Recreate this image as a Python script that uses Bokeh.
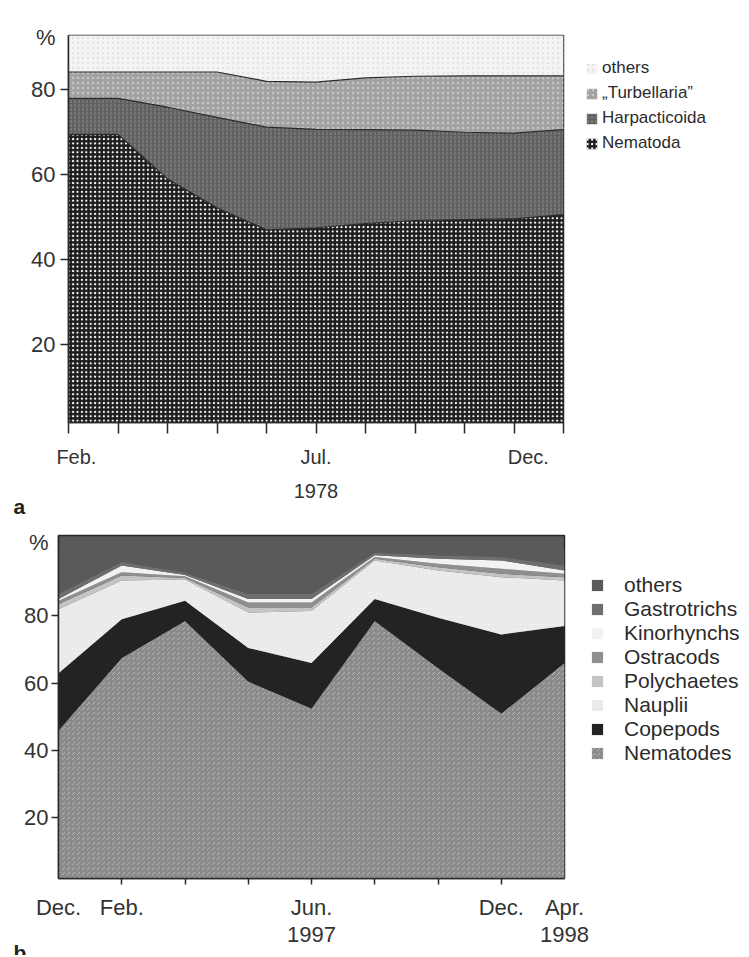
from bokeh.plotting import figure
from bokeh.models import Range1d, FixedTicker, Legend, LegendItem, ColumnDataSource, Title
from bokeh.layouts import column, row
from bokeh.embed import file_html
from bokeh.resources import INLINE

FONT = "Liberation Sans"
INK = "#2a2a2a"

# ---------------- Panel a : 1978, monthly samples Feb..Dec ----------------
a_samples = list(range(11))            # Feb .. Dec
a_month_labels = {0.16: "Feb.", 5: "Jul.\n1978", 9.29: "Dec."}
a_nematoda      = [69.5, 69.5, 59.0, 52.2, 47.0, 47.5, 48.5, 49.2, 49.4, 49.6, 50.6]
a_harpacticoida = [8.5, 8.5, 16.9, 21.3, 24.2, 23.2, 22.1, 21.3, 20.6, 20.2, 20.0]
a_turbellaria   = [6.2, 6.2, 8.3, 10.7, 10.8, 11.1, 12.2, 12.7, 13.3, 13.5, 12.7]
a_others        = [15.8, 15.8, 15.8, 15.8, 18.0, 18.2, 17.2, 16.8, 16.7, 16.7, 16.7]
a_series_names  = ["Nematoda", "Harpacticoida", "\u201eTurbellaria\u201d", "others"]
a_yticks = [20, 40, 60, 80]
a_ylabels = {20: "20", 40: "40", 60: "60", 80: "80", 92.3: "%"}
a_panel_letter = "a"

# ---------------- Panel b : Dec 1996 .. Apr 1998 sampling dates ----------------
b_samples = list(range(9))
b_tick_labels = {0: "Dec.", 1: "Feb.", 4: "Jun.\n1997", 7: "Dec.", 8: "Apr.\n1998"}
b_nematodes    = [46.0, 67.5, 78.5, 60.5, 52.5, 78.5, 64.5, 51.0, 66.0]
b_copepods     = [17.0, 11.5, 6.0, 10.0, 13.5, 6.5, 15.0, 23.5, 11.0]
b_nauplii      = [19.0, 11.5, 6.3, 10.5, 15.5, 11.5, 14.0, 17.0, 13.5]
b_polychaetes  = [1.5, 1.5, 0.5, 1.5, 1.0, 0.5, 1.0, 1.0, 1.0]
b_ostracods    = [1.0, 1.0, 0.5, 1.5, 1.5, 0.5, 1.0, 1.5, 1.0]
b_kinorhynchs  = [0.5, 2.0, 0.4, 1.0, 1.0, 0.5, 1.5, 2.5, 1.0]
b_gastrotrichs = [1.5, 1.0, 0.6, 1.5, 1.5, 0.8, 1.0, 1.0, 1.5]
b_others       = [13.5, 4.0, 7.2, 13.5, 13.5, 1.2, 2.0, 2.5, 5.0]
b_series_names = ["Nematodes", "Copepods", "Nauplii", "Polychaetes",
                  "Ostracods", "Kinorhynchs", "Gastrotrichs", "others"]
b_yticks = [20, 40, 60, 80]
b_ylabels = {20: "20", 40: "40", 60: "60", 80: "80", 101.8: "%"}
b_panel_letter = "b"


def stack_bounds(layers):
    bottoms, tops = [], []
    base = [0.0] * len(layers[0])
    for lay in layers:
        top = [b + v for b, v in zip(base, lay)]
        bottoms.append(base)
        tops.append(top)
        base = top
    return bottoms, tops


def style_axes(p, tick_size):
    p.outline_line_color = INK
    p.outline_line_width = 1.5
    p.xgrid.visible = False
    p.ygrid.visible = False
    for ax in (p.xaxis[0], p.yaxis[0]):
        ax.axis_line_color = INK
        ax.axis_line_width = 1.5
        ax.major_tick_line_color = None
        ax.minor_tick_line_color = INK
        ax.minor_tick_line_width = 1.5
        ax.minor_tick_in = 0
        ax.major_tick_in = 0
        ax.major_label_text_font = FONT
        ax.major_label_text_font_size = tick_size
        ax.major_label_text_color = "#333333"


def panel_letter(p, letter, offset):
    p.add_layout(Title(text=letter, align="left", offset=offset, standoff=-26,
                       vertical_align="bottom", text_font=FONT, text_font_size="21px",
                       text_font_style="bold", text_color="#222222"), "below")


# ======================= Panel a =======================
pa = figure(frame_width=495, frame_height=387, output_backend="svg",
            toolbar_location=None, x_range=Range1d(0, 10), y_range=Range1d(1.6, 92.8),
            min_border_left=68, min_border_top=35, min_border_bottom=98,
            min_border_right=180, background_fill_color="white",
            border_fill_color="white")
style_axes(pa, "22px")
pa.yaxis.ticker = FixedTicker(ticks=list(a_ylabels.keys()), minor_ticks=a_yticks)
pa.yaxis.major_label_overrides = a_ylabels
pa.yaxis.major_tick_out = 8
pa.yaxis.minor_tick_out = 8
pa.yaxis.major_label_standoff = 5
pa.xaxis.ticker = FixedTicker(ticks=list(a_month_labels.keys()), minor_ticks=a_samples)
pa.xaxis.major_label_overrides = a_month_labels
pa.xaxis.major_tick_out = 11
pa.xaxis.minor_tick_out = 11
pa.xaxis.major_label_standoff = 12
pa.xaxis.major_label_text_font_size = "20px"
pa.xaxis.major_label_text_line_height = 1.55

a_layers = [a_nematoda, a_harpacticoida, a_turbellaria, a_others]
a_bot, a_top = stack_bounds(a_layers)
a_styles = [
    dict(fill_color="#1d1d1d", hatch_pattern=".", hatch_color="white", hatch_scale=4.4, hatch_weight=2.0),
    dict(fill_color="#606060", hatch_pattern=":", hatch_color="#8c8c8c", hatch_scale=4, hatch_weight=1),
    dict(fill_color="#a2a2a2", hatch_pattern=".", hatch_color="#c6c6c6", hatch_scale=5, hatch_weight=1.2),
    dict(fill_color="#f4f4f4", hatch_pattern=".", hatch_color="#e4e4e4", hatch_scale=5, hatch_weight=1),
]
a_src = ColumnDataSource(dict(x=a_samples, **{f"b{i}": a_bot[i] for i in range(4)},
                              **{f"t{i}": a_top[i] for i in range(4)}))
a_rends = []
for i, st in enumerate(a_styles):
    r = pa.varea(x="x", y1=f"b{i}", y2=f"t{i}", source=a_src, **st)
    a_rends.append(r)
for i in range(3):
    pa.line(x="x", y=f"t{i}", source=a_src, line_color=INK, line_width=1.2)

a_box = pa.quad(left=[], right=[], top=[], bottom=[], fill_alpha=0,
                line_color=INK, line_width=1)
a_items = [LegendItem(label=a_series_names[i], renderers=[a_rends[i], a_box]) for i in (3, 2, 1, 0)]
leg_a = Legend(items=a_items, location=(14, 261), margin=0, padding=8,
               glyph_width=13, glyph_height=13, label_height=19, spacing=5,
               label_standoff=4, label_text_font=FONT, label_text_font_size="17px",
               label_text_color="#2b2b2b", border_line_alpha=0, background_fill_alpha=0)
pa.add_layout(leg_a, "right")
panel_letter(pa, a_panel_letter, -55)

# ======================= Panel b =======================
OTHERS_B = "#5a5a5a"
pb = figure(frame_width=506, frame_height=343, output_backend="svg",
            toolbar_location=None, x_range=Range1d(0, 8), y_range=Range1d(2, 103.9),
            min_border_left=58, min_border_top=15, min_border_bottom=77,
            min_border_right=179, background_fill_color=OTHERS_B,
            border_fill_color="white")
style_axes(pb, "22px")
pb.yaxis.ticker = FixedTicker(ticks=list(b_ylabels.keys()), minor_ticks=b_yticks)
pb.yaxis.major_label_overrides = b_ylabels
pb.yaxis.major_tick_out = 7
pb.yaxis.minor_tick_out = 7
pb.yaxis.major_label_standoff = 3
pb.xaxis.ticker = FixedTicker(ticks=list(b_tick_labels.keys()), minor_ticks=b_samples[1:-1])
pb.xaxis.major_label_overrides = b_tick_labels
pb.xaxis.major_tick_out = 6
pb.xaxis.minor_tick_out = 6
pb.xaxis.major_label_standoff = 10
pb.xaxis.major_label_text_line_height = 1.1

b_layers = [b_nematodes, b_copepods, b_nauplii, b_polychaetes,
            b_ostracods, b_kinorhynchs, b_gastrotrichs, b_others]
b_bot, b_top = stack_bounds(b_layers)
b_styles = [
    dict(fill_color="#8b8b8b", hatch_pattern=",", hatch_color="#b4b4b4", hatch_scale=5, hatch_weight=1),
    dict(fill_color="#232323"),
    dict(fill_color="#eeeeee", hatch_pattern="+", hatch_color="#e2e2e2", hatch_scale=4, hatch_weight=0.6),
    dict(fill_color="#c4c4c4"),
    dict(fill_color="#8f8f8f"),
    dict(fill_color="#f2f2f2"),
    dict(fill_color="#6e6e6e"),
    dict(fill_color=OTHERS_B),
]
b_src = ColumnDataSource(dict(x=b_samples, **{f"b{i}": b_bot[i] for i in range(8)},
                              **{f"t{i}": b_top[i] for i in range(8)}))
b_rends = []
for i, st in enumerate(b_styles):
    r = pb.varea(x="x", y1=f"b{i}", y2=f"t{i}", source=b_src, **st)
    b_rends.append(r)

b_box = pb.quad(left=[], right=[], top=[], bottom=[], fill_alpha=0,
                line_color=INK, line_width=1)
b_items = [LegendItem(label=b_series_names[i], renderers=[b_rends[i], b_box]) for i in range(7, -1, -1)]
leg_b = Legend(items=b_items, location=(16, 103), margin=0, padding=10,
               glyph_width=14, glyph_height=14, label_height=20, spacing=0,
               label_standoff=20, label_text_font=FONT, label_text_font_size="21px",
               label_text_color="#2b2b2b", border_line_alpha=0, background_fill_alpha=0)
pb.add_layout(leg_b, "right")
panel_letter(pb, b_panel_letter, -45)

layout = column(row(pa), row(pb), spacing=0)
open("out.html", "w").write(file_html(layout, INLINE))
